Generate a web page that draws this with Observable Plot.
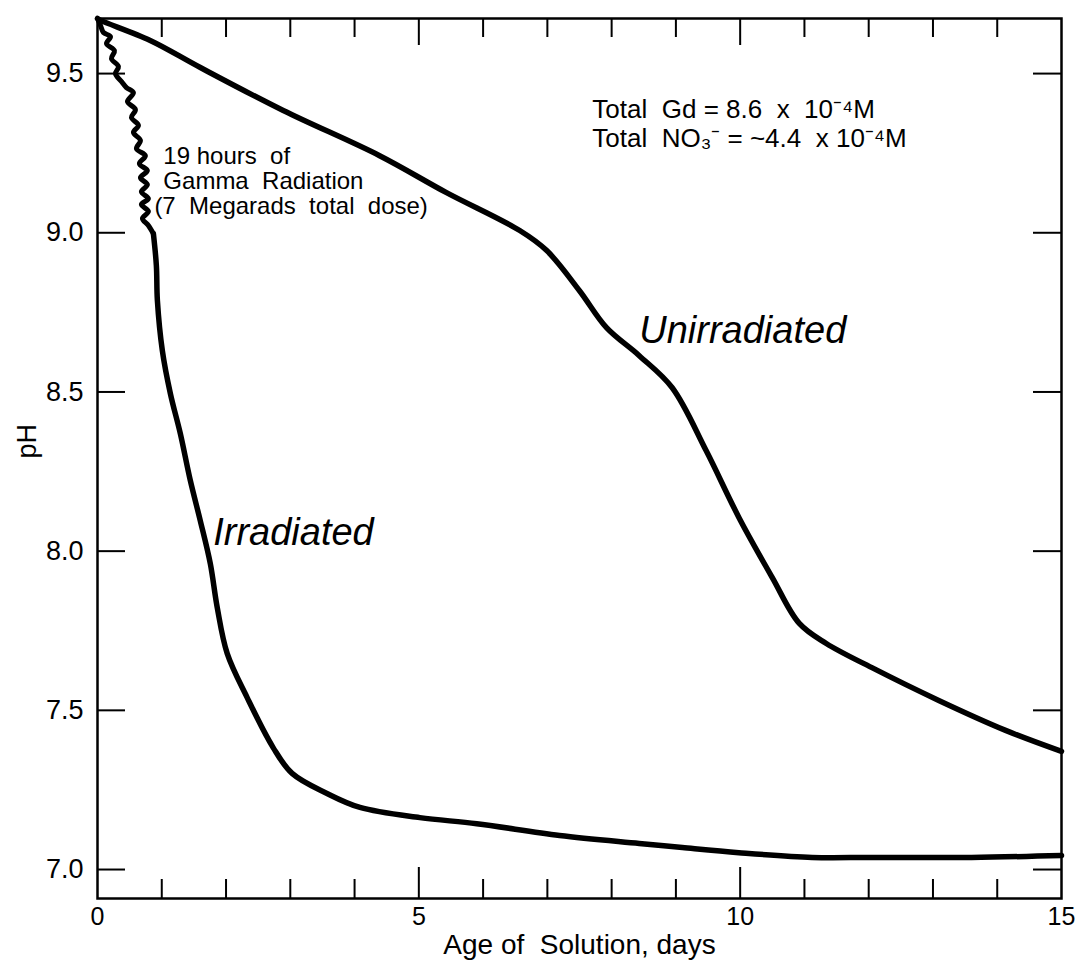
<!DOCTYPE html>
<html>
<head>
<meta charset="utf-8">
<script src="https://cdn.jsdelivr.net/npm/d3@7"></script>
<script src="https://cdn.jsdelivr.net/npm/@observablehq/plot@0.6"></script>
<style>
  html, body { margin: 0; padding: 0; background: #fff; }
  #chart { width: 1075px; height: 971px; }
</style>
</head>
<body>
<div id="chart"></div>
<script>
// ---- Data ----
const unirrDays = [0, 0.05, 0.82, 1.6, 2.89, 4.39, 5.43, 6.57, 6.99, 7.5, 7.92, 8.43, 8.94, 9.47, 9.98, 10.5, 10.92, 11.34, 12.05, 13.09, 14.13, 15.0];
const unirrPH   = [9.673, 9.667, 9.604, 9.519, 9.384, 9.242, 9.126, 9.007, 8.944, 8.818, 8.702, 8.614, 8.514, 8.316, 8.106, 7.917, 7.773, 7.71, 7.634, 7.531, 7.437, 7.371];

// irradiated: wavy portion during 19 h of gamma radiation
const irrWavyDays = [0, 0.047, 0.093, 0.202, 0.14, 0.264, 0.217, 0.326, 0.28, 0.373, 0.45, 0.559, 0.466, 0.59, 0.528, 0.637, 0.559, 0.668, 0.606, 0.745, 0.652, 0.776, 0.668, 0.776, 0.683, 0.792, 0.683, 0.792, 0.699, 0.792, 0.87];
const irrWavyPH   = [9.673, 9.651, 9.629, 9.616, 9.594, 9.572, 9.547, 9.522, 9.5, 9.475, 9.456, 9.44, 9.412, 9.387, 9.362, 9.337, 9.315, 9.29, 9.264, 9.242, 9.217, 9.195, 9.173, 9.151, 9.129, 9.107, 9.089, 9.067, 9.045, 9.023, 8.997];
// irradiated: after irradiation
const irrDays = [0.87, 0.916, 0.932, 1.009, 1.134, 1.289, 1.444, 1.599, 1.755, 1.863, 2.019, 2.329, 2.733, 3.028, 3.571, 4.084, 5.016, 5.901, 7.19, 8.43, 9.1, 9.98, 11.12, 12.05, 13.6, 15.0];
const irrPH   = [8.997, 8.897, 8.787, 8.63, 8.495, 8.369, 8.222, 8.096, 7.961, 7.823, 7.678, 7.54, 7.383, 7.302, 7.239, 7.195, 7.163, 7.144, 7.107, 7.082, 7.069, 7.053, 7.038, 7.038, 7.038, 7.044];

const xTickLabels = [0, 5, 10, 15];
const xMinorTicks = [1, 2, 3, 4, 6, 7, 8, 9, 11, 12, 13, 14];
const xMajorTicks = [5, 10];
const yTicks = [7.0, 7.5, 8.0, 8.5, 9.0, 9.5];

const noteLines = ["19 hours  of", "Gamma  Radiation", "(7  Megarads  total  dose)"];
const noteDays  = [1.025, 1.025, 0.885];
const notePH    = [9.217, 9.139, 9.06];

const concLines = ["Total  Gd = 8.6  x  10\u207B\u2074M", "Total  NO\u2083\u207B = ~4.4  x 10\u207B\u2074M"];
const concDays  = [7.7, 7.7];
const concPH    = [9.359, 9.268];

const seriesLabels = ["Unirradiated", "Irradiated"];
const seriesLabelDays = [8.43, 1.8];
const seriesLabelPH   = [8.655, 8.018];

// ---- Build tables ----
const unirr = unirrDays.map((d, i) => ({day: d, pH: unirrPH[i]}));
const irrWavy = irrWavyDays.map((d, i) => ({day: d, pH: irrWavyPH[i]}));
const irr = irrDays.map((d, i) => ({day: d, pH: irrPH[i]}));
const notes = noteLines.map((t, i) => ({t, day: noteDays[i], pH: notePH[i]}));
const concs = concLines.map((t, i) => ({t, day: concDays[i], pH: concPH[i]}));
const slabels = seriesLabels.map((t, i) => ({t, day: seriesLabelDays[i], pH: seriesLabelPH[i]}));

const W = 1075, H = 971;
const mT = 18, mB = 73, mL = 97, mR = 14;
const pw = W - mL - mR, ph = H - mT - mB;

const chart = Plot.plot({
  width: W,
  height: H,
  marginTop: mT,
  marginBottom: mB,
  marginLeft: mL,
  marginRight: mR,
  style: {fontFamily: "'Liberation Sans', Arial, sans-serif", color: "black", background: "white"},
  x: {domain: [0, 15]},
  y: {domain: [6.909, 9.673]},
  marks: [
    Plot.frame({stroke: "black", strokeWidth: 2.5}),
    // bottom ticks (inward)
    Plot.tickX(xMinorTicks, {x: d => d, insetTop: ph - 19, stroke: "black", strokeWidth: 2}),
    Plot.tickX(xMajorTicks, {x: d => d, insetTop: ph - 31, stroke: "black", strokeWidth: 2}),
    // top ticks (inward)
    Plot.tickX(xMinorTicks, {x: d => d, insetBottom: ph - 19, stroke: "black", strokeWidth: 2}),
    Plot.tickX(xMajorTicks, {x: d => d, insetBottom: ph - 27, stroke: "black", strokeWidth: 2}),
    // left and right ticks (inward)
    Plot.tickY(yTicks, {y: d => d, insetRight: pw - 28, stroke: "black", strokeWidth: 2}),
    Plot.tickY(yTicks, {y: d => d, insetLeft: pw - 28, stroke: "black", strokeWidth: 2}),
    Plot.axisX({ticks: xTickLabels, tickSize: 0, tickPadding: 9, fontSize: 25, label: null, tickFormat: d => String(d)}),
    Plot.axisY({ticks: yTicks, tickSize: 0, tickPadding: 14, fontSize: 27, label: null, tickFormat: d3.format(".1f")}),
    Plot.text(["Age of  Solution, days"], {frameAnchor: "bottom", dy: 55, lineAnchor: "bottom", fontSize: 28, fill: "black"}),
    Plot.text(["pH"], {frameAnchor: "left", dx: -70, rotate: -90, fontSize: 27, fill: "black"}),
    // curves
    Plot.line(unirr, {x: "day", y: "pH", curve: "catmull-rom", stroke: "black", strokeWidth: 5.5}),
    Plot.line(irrWavy, {x: "day", y: "pH", curve: "catmull-rom", stroke: "black", strokeWidth: 5}),
    Plot.line(irr, {x: "day", y: "pH", curve: "catmull-rom", stroke: "black", strokeWidth: 5.5}),
    // annotations
    Plot.text(notes, {x: "day", y: "pH", text: "t", textAnchor: "start", lineAnchor: "bottom", fontSize: 24, fill: "black"}),
    Plot.text(concs, {x: "day", y: "pH", text: "t", textAnchor: "start", lineAnchor: "bottom", fontSize: 26, fill: "black"}),
    Plot.text(slabels, {x: "day", y: "pH", text: "t", textAnchor: "start", lineAnchor: "bottom", fontSize: 38, fontStyle: "italic", fill: "black"})
  ]
});
document.getElementById("chart").appendChild(chart);
</script>
</body>
</html>
